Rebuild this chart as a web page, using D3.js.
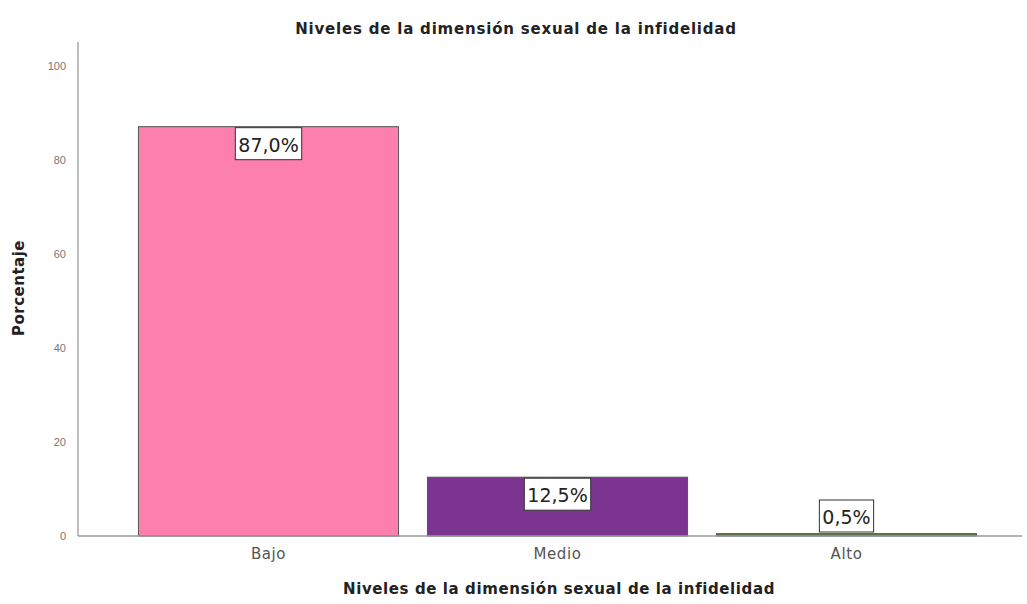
<!DOCTYPE html>
<html>
<head>
<meta charset="utf-8">
<script src="https://cdn.jsdelivr.net/npm/d3@7"></script>
<style>
  body { margin: 0; background: #fff; }
  svg { display: block; font-family: "DejaVu Sans", Verdana, sans-serif; }
</style>
</head>
<body>
<svg width="1027" height="604"></svg>
<script>
const categories = ['Bajo', 'Medio', 'Alto'];
const values = [87.0, 12.5, 0.5];
const valueLabels = ['87,0%', '12,5%', '0,5%'];
const barColors = ['#fd7fab', '#7b3591', '#5d7a45'];
const yTicks = [0, 20, 40, 60, 80, 100];

const svg = d3.select('svg');
const plotLeft = 78, plotRight = 1022, plotTop = 42, plotBottom = 536;

const x = d3.scaleBand()
    .domain(categories)
    .range([124, 991])
    .paddingInner(0.1)
    .paddingOuter(0.05);

const y = d3.scaleLinear().domain([0, 105]).range([plotBottom, plotTop]);

// title
svg.append('text')
    .attr('x', 516).attr('y', 34)
    .attr('text-anchor', 'middle')
    .attr('font-size', 15).attr('font-weight', 'bold').attr('fill', '#222')
    .attr('letter-spacing', 0.8)
    .text('Niveles de la dimensión sexual de la infidelidad');

// y axis
const yAxis = svg.append('g')
    .attr('transform', `translate(${plotLeft},0)`)
    .call(d3.axisLeft(y).tickValues(yTicks).tickSize(0).tickPadding(12));
yAxis.select('.domain').remove();
yAxis.selectAll('text').attr('font-size', 11).attr('fill', '#777')
    .attr('font-family', 'Arial, "Liberation Sans", sans-serif');
svg.append('line')
    .attr('x1', plotLeft).attr('x2', plotLeft).attr('y1', plotTop).attr('y2', plotBottom)
    .attr('stroke', '#aaa').attr('stroke-width', 1.5);

svg.append('text')
    .attr('transform', `translate(24,288) rotate(-90)`)
    .attr('text-anchor', 'middle')
    .attr('font-size', 15).attr('font-weight', 'bold').attr('fill', '#222')
    .attr('letter-spacing', 0.5)
    .text('Porcentaje');

// bars
svg.append('g').selectAll('rect')
    .data(values)
    .join('rect')
    .attr('x', (d, i) => x(categories[i]))
    .attr('y', d => y(d))
    .attr('width', x.bandwidth())
    .attr('height', d => y(0) - y(d))
    .attr('fill', (d, i) => barColors[i])
    .attr('stroke', '#555')
    .attr('stroke-width', 1);

// x axis
svg.append('line')
    .attr('x1', plotLeft).attr('x2', plotRight).attr('y1', plotBottom).attr('y2', plotBottom)
    .attr('stroke', '#999').attr('stroke-width', 1.5);

const xAxis = svg.append('g')
    .attr('transform', `translate(0,${plotBottom})`)
    .call(d3.axisBottom(x).tickSize(0).tickPadding(12));
xAxis.select('.domain').remove();
xAxis.selectAll('text').attr('font-size', 15).attr('fill', '#555')
    .attr('font-family', '"DejaVu Sans", sans-serif')
    .attr('letter-spacing', 0.6);

svg.append('text')
    .attr('x', 559).attr('y', 594)
    .attr('text-anchor', 'middle')
    .attr('font-size', 15).attr('font-weight', 'bold').attr('fill', '#222')
    .attr('letter-spacing', 0.6)
    .text('Niveles de la dimensión sexual de la infidelidad');

// value labels
const boxH = 32;
const labels = svg.append('g').selectAll('g')
    .data(values)
    .join('g')
    .attr('transform', (d, i) => {
        const cx = x(categories[i]) + x.bandwidth() / 2;
        const ty = Math.min(y(d) + 1, plotBottom - boxH - 4);
        return `translate(${cx},${ty})`;
    });

labels.append('text')
    .attr('text-anchor', 'middle')
    .attr('y', 24)
    .attr('font-size', 19).attr('fill', '#222')
    .text((d, i) => valueLabels[i]);

labels.each(function() {
    const g = d3.select(this);
    const bb = g.select('text').node().getBBox();
    g.insert('rect', 'text')
        .attr('x', bb.x - 3).attr('y', 0)
        .attr('width', bb.width + 6).attr('height', boxH)
        .attr('fill', '#fff').attr('stroke', '#333').attr('stroke-width', 1);
});
</script>
</body>
</html>
